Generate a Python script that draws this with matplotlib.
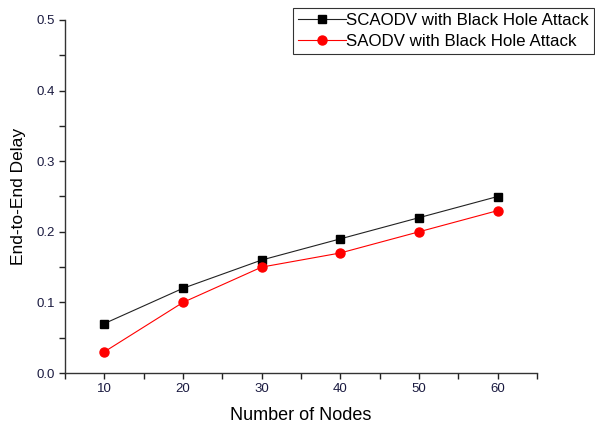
import matplotlib
matplotlib.use('Agg')
import matplotlib.pyplot as plt
from matplotlib.ticker import MultipleLocator

plt.rcParams['font.family'] = ['Liberation Sans', 'DejaVu Sans']

# data
nodes = [10, 20, 30, 40, 50, 60]
scaodv = [0.07, 0.12, 0.16, 0.19, 0.22, 0.25]
saodv = [0.03, 0.10, 0.15, 0.17, 0.20, 0.23]

fig = plt.figure(figsize=(5.95, 4.25), dpi=100)
ax = fig.add_axes([65/595, 52/425, 472/595, 353/425])

ax.plot(nodes, scaodv, color='#222222', lw=0.8, marker='s', ms=6,
        mfc='black', mec='black',
        label='SCAODV with Black Hole Attack')
ax.plot(nodes, saodv, color='red', lw=0.8, marker='o', ms=6.5,
        label='SAODV with Black Hole Attack')

ax.set_xlim(5, 65)
ax.set_ylim(0, 0.5)
ax.xaxis.set_major_locator(MultipleLocator(10))
ax.xaxis.set_minor_locator(MultipleLocator(5))
ax.yaxis.set_major_locator(MultipleLocator(0.1))
ax.yaxis.set_minor_locator(MultipleLocator(0.05))
ax.yaxis.set_major_formatter(plt.FormatStrFormatter('%.1f'))

for s in ['top', 'right']:
    ax.spines[s].set_visible(False)
for s in ['left', 'bottom']:
    ax.spines[s].set_color('#333333')
    ax.spines[s].set_linewidth(1.0)

ax.tick_params(which='both', direction='out', length=4, width=1,
               labelsize=9.5, colors='#222222', labelcolor='#1a1a40', pad=3)

ax.set_xlabel('Number of Nodes', fontsize=13, labelpad=9)
ax.set_ylabel('End-to-End Delay', fontsize=12.5, labelpad=8)

leg = fig.legend(loc='upper left', bbox_to_anchor=(293/595, 1 - 8/425),
                 fontsize=12.2, frameon=True, fancybox=False,
                 handlelength=2.8, borderpad=0.3, labelspacing=0.35,
                 handletextpad=0.05, borderaxespad=0)
leg.get_frame().set_edgecolor('black')
leg.get_frame().set_linewidth(0.8)

fig.savefig('out.png', dpi=100)
